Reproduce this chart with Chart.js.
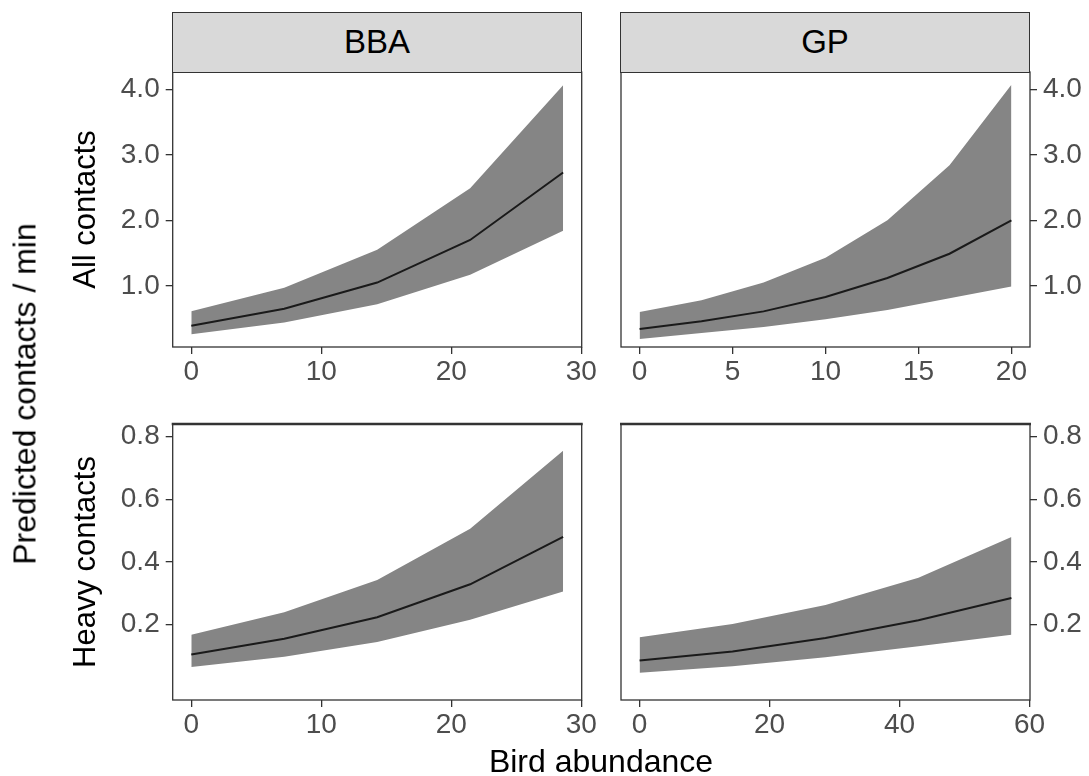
<!DOCTYPE html>
<html>
<head>
<meta charset="utf-8">
<script src="https://cdn.jsdelivr.net/npm/chart.js@4.4.1/dist/chart.umd.min.js"></script>
<style>
  body { margin: 0; background: #fff; }
  #wrap { position: relative; width: 1089px; height: 776px; font-family: "Liberation Sans", Arial, sans-serif; }
  #wrap canvas { position: absolute; left: 0; top: 0; }
  .strip { position: absolute; top: 12px; height: 61px; width: 410px; box-sizing: border-box;
           background: #d9d9d9; border: 1.6px solid #333; text-align: center;
           font-size: 33px; line-height: 58px; color: #000; }
  #ytitle { position: absolute; left: 25px; top: 394px; transform: translate(-50%, -50%) rotate(-90deg);
            white-space: nowrap; font-size: 32px; color: #000; }
  #xtitle { position: absolute; left: 601px; top: 761px; transform: translate(-50%, -50%);
            white-space: nowrap; font-size: 32px; color: #000; }
</style>
</head>
<body>
<div id="wrap">
  <canvas id="bbaAll" width="1089" height="776"></canvas>
  <canvas id="gpAll" width="1089" height="776"></canvas>
  <canvas id="bbaHeavy" width="1089" height="776"></canvas>
  <canvas id="gpHeavy" width="1089" height="776"></canvas>
  <div class="strip" style="left:172px">BBA</div>
  <div class="strip" style="left:620px">GP</div>
  <div id="ytitle">Predicted contacts / min</div>
  <div id="xtitle">Bird abundance</div>
</div>
<script>
// bird abundance values where predictions were made
const bbaX = [0, 7.15, 14.3, 21.45, 28.6];
const gpAllX = [0, 3.33, 6.67, 10, 13.33, 16.67, 20];
const gpHeavyX = [0, 14.3, 28.6, 42.9, 57.2];

// all contacts
const bbaAllFit = [0.39, 0.65, 1.05, 1.70, 2.73];
const bbaAllUpper = [0.61, 0.97, 1.55, 2.49, 4.06];
const bbaAllLower = [0.26, 0.44, 0.72, 1.17, 1.84];
const gpAllFit = [0.34, 0.46, 0.61, 0.83, 1.12, 1.49, 2.00];
const gpAllUpper = [0.60, 0.78, 1.05, 1.43, 2.00, 2.84, 4.07];
const gpAllLower = [0.19, 0.28, 0.37, 0.49, 0.63, 0.81, 0.99];

// heavy contacts
const bbaHeavyFit = [0.105, 0.155, 0.224, 0.329, 0.480];
const bbaHeavyUpper = [0.168, 0.240, 0.343, 0.506, 0.755];
const bbaHeavyLower = [0.065, 0.098, 0.145, 0.216, 0.306];
const gpHeavyFit = [0.086, 0.115, 0.158, 0.214, 0.285];
const gpHeavyUpper = [0.160, 0.202, 0.263, 0.350, 0.480];
const gpHeavyLower = [0.047, 0.068, 0.096, 0.131, 0.168];

// tick labels
const bbaTicks = [0, 10, 20, 30];
const gpAllTicks = [0, 5, 10, 15, 20];
const gpHeavyTicks = [0, 20, 40, 60];
const allTicks = [1, 2, 3, 4];
const heavyTicks = [0.2, 0.4, 0.6, 0.8];

Chart.defaults.font.family = '"Liberation Sans", Arial, sans-serif';

const W = 1089, H = 776;
const AXIS_H = 60, RIGHT_AXIS_W = 58, LEFT_PAD = 64;

// draws the box round each panel
const panelBorder = {
  id: 'panelBorder',
  afterDraw(chart, args, opts) {
    const { left, top, right, bottom } = chart.chartArea;
    const ctx = chart.ctx;
    ctx.save();
    ctx.strokeStyle = '#333333';
    ctx.lineWidth = 1.3;
    ctx.strokeRect(left, top, right - left, bottom - top);
    if (opts.thickTop) {
      ctx.lineWidth = 2.6;
      ctx.beginPath();
      ctx.moveTo(left - 1, top);
      ctx.lineTo(right + 1, top);
      ctx.stroke();
    }
    ctx.restore();
  }
};

function makePanel(id, p) {
  const pts = ys => p.x.map((x, i) => ({ x: x, y: ys[i] }));
  const isLeft = p.yPos === 'left';
  const yWidth = isLeft ? p.area.left - LEFT_PAD : RIGHT_AXIS_W;
  const tickGrid = { drawOnChartArea: false, drawTicks: true, tickLength: 7, tickColor: '#333333', lineWidth: 1.3 };

  return new Chart(document.getElementById(id), {
    type: 'line',
    data: {
      // fitted line first so it is drawn above the ribbon
      datasets: [
        { data: pts(p.fit), borderColor: '#1a1a1a', borderWidth: 2, pointRadius: 0, fill: false },
        { data: pts(p.upper), borderColor: 'rgba(0,0,0,0)', borderWidth: 0, pointRadius: 0,
          fill: '+1', backgroundColor: '#858585' },
        { data: pts(p.lower), borderColor: 'rgba(0,0,0,0)', borderWidth: 0, pointRadius: 0, fill: false }
      ]
    },
    options: {
      responsive: false,
      animation: false,
      events: [],
      layout: {
        padding: {
          left: isLeft ? LEFT_PAD : p.area.left,
          right: isLeft ? W - p.area.right : W - p.area.right - RIGHT_AXIS_W,
          top: p.area.top,
          bottom: H - p.area.bottom - AXIS_H
        }
      },
      plugins: {
        legend: { display: false },
        tooltip: { enabled: false },
        panelBorder: { thickTop: p.thickTop }
      },
      scales: {
        x: {
          type: 'linear',
          min: p.xMin, max: p.xMax,
          grid: tickGrid,
          border: { display: false },
          afterBuildTicks: s => { s.ticks = p.xTicks.map(v => ({ value: v })); },
          afterFit: s => { s.height = AXIS_H; },
          ticks: { color: '#4d4d4d', font: { size: 28 }, padding: 1, maxRotation: 0,
                   callback: v => String(v) }
        },
        y: {
          type: 'linear',
          position: p.yPos,
          min: p.yMin, max: p.yMax,
          grid: tickGrid,
          border: { display: false },
          afterBuildTicks: s => { s.ticks = p.yTicks.map(v => ({ value: v })); },
          afterFit: s => { s.width = yWidth; },
          ticks: { color: '#4d4d4d', font: { size: 28 }, padding: 6,
                   callback: v => v.toFixed(1) },
          title: { display: !!p.title, text: p.title, color: '#000', font: { size: 31 } }
        }
      }
    },
    plugins: [panelBorder]
  });
}

const topArea = { top: 72, bottom: 347 };
const botArea = { top: 424, bottom: 700 };

makePanel('bbaAll', {
  x: bbaX, fit: bbaAllFit, upper: bbaAllUpper, lower: bbaAllLower,
  xMin: -1.43, xMax: 30.03, xTicks: bbaTicks,
  yMin: 0.066, yMax: 4.264, yTicks: allTicks, yPos: 'left', title: 'All contacts',
  area: { left: 172.7, right: 581.7, top: topArea.top, bottom: topArea.bottom }
});
makePanel('gpAll', {
  x: gpAllX, fit: gpAllFit, upper: gpAllUpper, lower: gpAllLower,
  xMin: -1, xMax: 21, xTicks: gpAllTicks,
  yMin: 0.066, yMax: 4.264, yTicks: allTicks, yPos: 'right',
  area: { left: 621, right: 1030, top: topArea.top, bottom: topArea.bottom }
});
makePanel('bbaHeavy', {
  x: bbaX, fit: bbaHeavyFit, upper: bbaHeavyUpper, lower: bbaHeavyLower,
  xMin: -1.43, xMax: 30.03, xTicks: bbaTicks,
  yMin: -0.04, yMax: 0.84, yTicks: heavyTicks, yPos: 'left', title: 'Heavy contacts', thickTop: true,
  area: { left: 172.7, right: 581.7, top: botArea.top, bottom: botArea.bottom }
});
makePanel('gpHeavy', {
  x: gpHeavyX, fit: gpHeavyFit, upper: gpHeavyUpper, lower: gpHeavyLower,
  xMin: -2.86, xMax: 60.06, xTicks: gpHeavyTicks,
  yMin: -0.04, yMax: 0.84, yTicks: heavyTicks, yPos: 'right', thickTop: true,
  area: { left: 621, right: 1030, top: botArea.top, bottom: botArea.bottom }
});
</script>
</body>
</html>
